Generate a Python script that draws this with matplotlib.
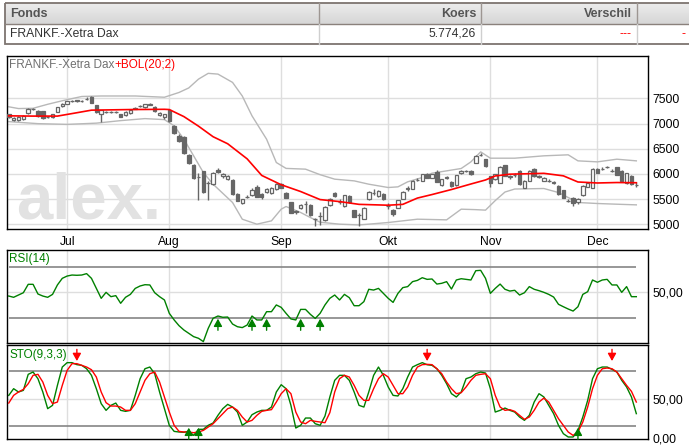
import numpy as np
import pandas as pd
import matplotlib
matplotlib.use('Agg')
import matplotlib.pyplot as plt
from matplotlib.colors import LinearSegmentedColormap

plt.rcParams['font.family'] = ['Liberation Sans', 'DejaVu Sans']

# trading days shown (15 Jun 2011 .. 13 Dec 2011)
dates = pd.bdate_range('2011-06-15', '2011-12-13')
month_labels = ['Jul', 'Aug', 'Sep', 'Okt', 'Nov', 'Dec']
month_nums = [7, 8, 9, 10, 11, 12]

opens = [7182, 7069, 7069, 7089, 7202, 7285, 7248, 7248, 7130, 7135,
         7235, 7348, 7400, 7455, 7462, 7450, 7490, 7533, 7367, 7188,
         7232, 7235, 7230, 7188, 7168, 7215, 7300, 7350, 7321, 7380,
         7334, 7168, 7135, 7268, 6950, 6750, 6740, 6373, 6178, 5930,
         6050, 5810, 5790, 6085, 5950, 5900, 5880, 5606, 5420, 5545,
         5577, 5750, 5604, 5644, 5630, 5697, 5796, 5630, 5432, 5260,
         5332, 5405, 5390, 5095, 5160, 5085, 5378, 5630, 5440, 5365,
         5564, 5279, 5175, 5113, 5498, 5625, 5560, 5610, 5362, 5286,
         5332, 5511, 5708, 5710, 5880, 5862, 5995, 5929, 6042, 5776,
         5927, 5842, 5776, 6015, 6058, 6061, 6227, 6378, 6293, 5949,
         5896, 5829, 6174, 5948, 5973, 6061, 5730, 5862, 6094, 5948,
         5862, 5860, 5828, 5763, 5677, 5463, 5531, 5432, 5577, 5750,
         5730, 6094, 6106, 6139, 6060, 6128, 6061, 5816, 5962, 5778]
highs = [7200, 7130, 7150, 7175, 7320, 7310, 7265, 7260, 7160, 7195,
         7330, 7415, 7460, 7480, 7478, 7475, 7520, 7540, 7380, 7280,
         7260, 7258, 7255, 7200, 7245, 7300, 7330, 7375, 7395, 7410,
         7350, 7230, 7200, 7290, 6970, 6790, 6750, 6390, 6190, 6010,
         6060, 5850, 6040, 6110, 6010, 5975, 5895, 5620, 5500, 5580,
         5720, 5770, 5615, 5730, 5750, 5810, 5815, 5645, 5445, 5290,
         5395, 5465, 5405, 5130, 5240, 5360, 5525, 5650, 5510, 5590,
         5580, 5290, 5230, 5345, 5655, 5700, 5680, 5625, 5430, 5295,
         5490, 5655, 5760, 5875, 5910, 6005, 6010, 6005, 6075, 5905,
         5960, 5860, 5985, 6070, 6085, 6075, 6370, 6410, 6305, 5960,
         6005, 6150, 6185, 5975, 6010, 6075, 5875, 6070, 6110, 5980,
         5935, 5890, 5850, 5775, 5690, 5510, 5545, 5520, 5770, 5840,
         6110, 6115, 6140, 6160, 6090, 6145, 6075, 6020, 5975, 5830]
lows = [7110, 7050, 7055, 7075, 7190, 7265, 7140, 7100, 7110, 7120,
        7225, 7340, 7390, 7440, 7440, 7435, 7475, 7405, 7220, 7036,
        7210, 7212, 7205, 7125, 7150, 7200, 7285, 7335, 7310, 7365,
        7235, 7150, 7100, 7040, 6790, 6630, 6395, 6200, 5890, 5490,
        5620, 5485, 5770, 6015, 5920, 5880, 5580, 5465, 5400, 5515,
        5560, 5540, 5505, 5630, 5610, 5680, 5720, 5520, 5220, 5200,
        5300, 5230, 5170, 4965, 4980, 5070, 5360, 5550, 5410, 5350,
        5420, 5140, 4967, 5100, 5485, 5590, 5545, 5485, 5310, 5170,
        5320, 5500, 5660, 5695, 5860, 5850, 5915, 5915, 5830, 5760,
        5905, 5750, 5765, 6005, 6040, 5985, 6210, 6350, 6140, 5745,
        5880, 5815, 5950, 5900, 5945, 5785, 5715, 5850, 5940, 5920,
        5850, 5830, 5790, 5590, 5520, 5440, 5370, 5400, 5565, 5735,
        5720, 6015, 6080, 6110, 6030, 5970, 5850, 5800, 5785, 5740]
closes = [7135, 7115, 7135, 7155, 7301, 7290, 7155, 7122, 7135, 7182,
          7321, 7400, 7447, 7460, 7458, 7455, 7495, 7414, 7235, 7268,
          7236, 7238, 7235, 7135, 7235, 7281, 7302, 7354, 7381, 7383,
          7248, 7215, 7188, 7056, 6806, 6645, 6410, 6225, 5920, 5940,
          5637, 5815, 6025, 6030, 5995, 5962, 5595, 5470, 5498, 5551,
          5683, 5551, 5538, 5710, 5730, 5796, 5730, 5531, 5233, 5245,
          5385, 5410, 5180, 5100, 5165, 5350, 5511, 5565, 5445, 5577,
          5432, 5153, 5180, 5332, 5644, 5630, 5664, 5498, 5365, 5200,
          5478, 5644, 5712, 5862, 5884, 5995, 5929, 5995, 5842, 5896,
          5931, 5763, 5975, 6061, 6062, 5995, 6360, 6382, 6148, 5829,
          5995, 6141, 5962, 5951, 5976, 5796, 5862, 6061, 5949, 5951,
          5929, 5863, 5830, 5597, 5531, 5466, 5418, 5511, 5763, 5829,
          6094, 6028, 6108, 6141, 6062, 5982, 5862, 6015, 5796, 5774]

# Bollinger(20;2) at selected days
bol_mid_idx = [0, 5, 10, 13, 17, 25, 32, 33, 36, 39, 42, 45, 49, 52, 56, 60, 64, 68,
               72, 78, 81, 84, 87, 91, 95, 98, 100, 103, 110, 114, 117, 121, 125, 129]
bol_mid = [7155, 7150, 7150, 7200, 7268, 7280, 7285, 7280, 7140, 6950, 6740, 6600,
           6300, 5970, 5785, 5650, 5490, 5450, 5395, 5378, 5395, 5520, 5590, 5690,
           5800, 5880, 5960, 5995, 6012, 5962, 5840, 5820, 5829, 5825]
bol_up_idx = [0, 2, 5, 8, 11, 15, 19, 26, 32, 35, 37, 39, 41, 43, 46, 48, 50, 53, 55,
              57, 61, 64, 67, 71, 74, 78, 80, 82, 85, 87, 90, 93, 95, 97, 99, 104,
              110, 115, 117, 121, 125, 129]
bol_up = [7335, 7300, 7305, 7385, 7455, 7540, 7550, 7550, 7525, 7620, 7710, 7885,
          8000, 7985, 7820, 7550, 7155, 6690, 6227, 6110, 6095, 5985, 5896, 5862,
          5796, 5730, 5743, 5843, 5929, 6015, 6061, 6108, 6240, 6439, 6313, 6313,
          6360, 6380, 6260, 6240, 6293, 6260]
bol_lo_idx = [0, 6, 12, 18, 23, 28, 32, 34, 36, 38, 40, 42, 46, 48, 51, 54, 56, 57,
              60, 62, 64, 68, 72, 78, 84, 90, 93, 96, 98, 100, 102, 104, 110, 113,
              117, 121, 125, 129]
bol_lo = [7040, 7000, 6985, 7010, 7060, 7100, 7080, 6956, 6691, 6360, 6028, 5796,
          5432, 5100, 5001, 5067, 5299, 5352, 5233, 5133, 5040, 5001, 4985, 5034,
          5100, 5087, 5299, 5290, 5280, 5470, 5640, 5700, 5710, 5630, 5432, 5412,
          5398, 5385]

rsi = [47.1, 46.1, 47.9, 49.7, 56.3, 56.3, 48.7, 47.1, 46.1, 48.4,
       55.8, 61.0, 62.8, 63.6, 63.4, 63.6, 64.7, 61.0, 53.1, 45.3,
       50.0, 46.6, 47.4, 41.4, 46.1, 48.4, 53.1, 55.0, 56.0, 55.8,
       49.7, 46.6, 44.0, 33.5, 28.3, 23.8, 20.4, 17.8, 15.2, 13.9,
       11.3, 21.7, 29.6, 31.4, 30.4, 30.6, 25.1, 23.0, 22.3, 24.3,
       31.4, 28.3, 28.3, 34.8, 34.8, 40.1, 38.2, 33.5, 29.1, 28.3,
       36.6, 36.6, 32.7, 29.5, 33.5, 40.1, 45.3, 47.9, 44.0, 48.4,
       45.8, 39.5, 39.5, 42.7, 52.4, 51.8, 53.1, 49.2, 45.3, 42.1,
       49.2, 53.7, 54.5, 58.4, 59.4, 61.5, 60.2, 60.5, 56.5, 57.1,
       58.4, 52.6, 59.7, 60.7, 60.2, 59.7, 67.0, 67.3, 61.0, 49.2,
       53.1, 56.5, 52.4, 51.0, 51.6, 47.9, 49.7, 54.5, 52.4, 51.3,
       50.0, 48.4, 46.3, 40.6, 38.7, 36.9, 35.3, 38.7, 48.4, 50.5,
       59.7, 57.9, 59.7, 60.2, 55.8, 55.8, 50.0, 54.5, 46.6, 46.6]
rsi_buy = [43, 50, 53, 60, 64]

sto_k = [55.1, 63.8, 59.5, 61.6, 82.5, 85.5, 76.8, 59.5, 37.8, 42.1,
         68.1, 92.0, 97.7, 97.7, 95.1, 94.2, 89.8, 81.2, 63.8, 44.3,
         35.6, 42.1, 45.1, 35.6, 34.3, 35.6, 55.1, 76.8, 89.8, 92.0,
         83.3, 59.5, 37.8, 16.1, 8.2, 7.4, 7.0, 8.5, 3.0, 10.9,
         10.9, 16.1, 19.1, 29.1, 37.8, 43.4, 39.9, 33.4, 16.1, 20.4,
         29.9, 33.4, 35.6, 35.6, 39.9, 59.5, 69.0, 63.8, 42.1, 12.6,
         16.1, 25.6, 25.6, 18.2, 16.1, 28.2, 53.0, 74.7, 81.2, 81.2,
         74.7, 59.5, 42.1, 39.9, 59.5, 81.2, 92.0, 81.2, 66.0, 55.1,
         54.3, 63.8, 79.0, 92.0, 95.1, 97.7, 95.0, 94.2, 89.8, 81.2,
         70.3, 57.3, 53.0, 59.5, 76.8, 79.0, 83.3, 85.5, 84.2, 63.8,
         33.4, 35.6, 38.6, 35.6, 33.4, 26.9, 22.6, 29.1, 46.4, 57.3,
         53.0, 42.1, 31.3, 16.1, 5.2, 0.9, 0.9, 9.0, 26.9, 48.6,
         76.8, 89.8, 92.0, 92.0, 89.0, 85.5, 74.7, 66.0, 53.0, 31.3]
sto_d = [45.1, 55.1, 59.5, 62.9, 70.3, 81.2, 82.5, 72.5, 55.1, 44.3,
         46.4, 68.1, 87.7, 96.4, 96.4, 94.2, 92.0, 88.5, 79.0, 59.5,
         45.6, 41.2, 41.2, 39.9, 35.6, 35.6, 44.3, 59.5, 74.7, 83.3,
         85.5, 72.5, 53.0, 33.4, 16.1, 8.2, 7.4, 7.4, 6.5, 7.4,
         9.5, 13.9, 18.2, 24.7, 31.3, 37.8, 39.9, 35.6, 26.9, 20.4,
         22.6, 29.1, 34.3, 35.6, 36.5, 46.4, 57.3, 63.8, 57.3, 33.4,
         20.4, 18.2, 22.6, 21.3, 20.4, 19.5, 32.6, 59.5, 76.8, 81.2,
         79.0, 68.1, 55.1, 48.6, 48.6, 63.8, 76.8, 83.3, 79.0, 68.1,
         57.3, 57.3, 66.0, 81.2, 92.0, 95.1, 95.5, 95.1, 89.8, 83.3,
         72.5, 63.8, 57.3, 58.6, 66.0, 74.7, 81.2, 82.5, 83.3, 76.8,
         55.1, 39.9, 35.6, 36.5, 34.3, 29.1, 23.9, 26.9, 35.6, 46.4,
         51.6, 46.4, 35.6, 24.7, 16.1, 7.4, 3.0, 7.4, 20.4, 39.9,
         63.8, 81.2, 89.8, 90.7, 89.8, 85.5, 76.8, 68.1, 60.3, 46.4]
sto_sell = [14, 86, 124]
sto_buy = [37, 39, 117]

# colours
GRID = '#dedede'
LEVEL = '#858585'
CANDLE = '#666666'
BAND = '#b8b8b8'
GREEN = '#008000'
RED = '#ff0000'

W, H = 689, 447
fig = plt.figure(figsize=(W / 100, H / 100), dpi=100)


def box(x0, y0, x1, y1):
    return [x0 / W, 1 - y1 / H, (x1 - x0) / W, (y1 - y0) / H]


# ---- quote table on top ----
ax0 = fig.add_axes([0, 0, 1, 1])
ax0.axis('off')
grad = LinearSegmentedColormap.from_list('hdr', ['#ececec', '#d6d6d6'])
ax0.imshow(np.linspace(0, 1, 30).reshape(-1, 1), cmap=grad, aspect='auto',
           extent=[5, 700, 24, 3.3], zorder=0)
ax0.set_xlim(0, W)
ax0.set_ylim(H, 0)
ax0.add_patch(plt.Rectangle((5, 3.3), 700, 40.7, fill=False, ec='#7d7470', lw=1.3))
ax0.plot([5, 700], [24, 24], color='#8a817c', lw=1)
for cx in [319, 481, 637]:
    ax0.plot([cx, cx], [3.3, 24], color='#9d9692', lw=1)
    ax0.plot([cx, cx], [24, 44], color='#cfcfcf', lw=1)
hdr = dict(fontsize=9, fontweight='bold', color='#555555', va='center')
ax0.text(10, 13.8, 'Fonds', ha='left', **hdr)
ax0.text(476, 13.8, 'Koers', ha='right', **hdr)
ax0.text(632, 13.8, 'Verschil', ha='right', **hdr)
ax0.text(10, 34, 'FRANKF.-Xetra Dax', ha='left', va='center', fontsize=8.7, color='#333333')
ax0.text(476, 34, '5.774,26', ha='right', va='center', fontsize=8.7, color='#333333')
ax0.text(632, 34, '---', ha='right', va='center', fontsize=8.7, color=RED)
ax0.text(682, 34, '-', ha='left', va='center', fontsize=8.7, color=RED)

x = np.arange(len(dates))
month_start = [int(np.where(dates.month == m)[0][0]) for m in month_nums]

ax_main = fig.add_axes(box(7.3, 56, 648, 229))
ax_rsi = fig.add_axes(box(7.3, 249.7, 648, 343))
ax_sto = fig.add_axes(box(7.3, 345.3, 648, 439.3))

for ax in [ax_main, ax_rsi, ax_sto]:
    ax.set_xlim(-0.3, 131.4)
    for sp in ax.spines.values():
        sp.set_color('black')
        sp.set_linewidth(1)
    ax.yaxis.tick_right()
    ax.tick_params(length=0, labelsize=8.7, pad=3)
    for m in month_start:
        ax.axvline(m, color=GRID, lw=1, zorder=0)

# ---- main price chart ----
ax_main.set_ylim(4905, 8345)
price_ticks = [5000, 5500, 6000, 6500, 7000, 7500]
ax_main.set_yticks(price_ticks)
ax_main.set_yticklabels([str(v) for v in price_ticks])
for v in price_ticks:
    ax_main.axhline(v, color=GRID, lw=1, zorder=0)
ax_main.set_xticks(month_start)
ax_main.set_xticklabels(month_labels)
ax_main.tick_params(axis='x', pad=5)

ax_main.text(0.014, 0.062, 'alex.', transform=ax_main.transAxes, fontsize=47,
             fontweight='bold', color='#e2e2e2', ha='left', va='baseline', zorder=0.5)

ax_main.plot(bol_up_idx, bol_up, color=BAND, lw=1, zorder=1)
ax_main.plot(bol_lo_idx, bol_lo, color=BAND, lw=1, zorder=1)

o = np.array(opens)
c = np.array(closes)
ax_main.vlines(x, lows, highs, color=CANDLE, lw=1, zorder=2)
up = c >= o
ax_main.bar(x[up], (c - o)[up], bottom=o[up], width=0.72, color='white',
            edgecolor=CANDLE, lw=0.9, zorder=3)
ax_main.bar(x[~up], (c - o)[~up], bottom=o[~up], width=0.72, color=CANDLE,
            edgecolor=CANDLE, lw=0.9, zorder=3)

ax_main.plot(bol_mid_idx, bol_mid, color=RED, lw=1.2, zorder=4)

t1 = ax_main.text(0.003, 0.929, 'FRANKF.-Xetra Dax', transform=ax_main.transAxes,
                  fontsize=8.5, color='#707070', va='baseline', ha='left')
ax_main.annotate('+BOL(20;2)', xy=(1, 0), xycoords=t1, fontsize=8.5, color=RED,
                 va='bottom', ha='left')

# ---- RSI ----
ax_rsi.set_ylim(10.2, 83.5)
ax_rsi.set_yticks([50])
ax_rsi.set_yticklabels(['50,00'])
ax_rsi.set_xticks([])
ax_rsi.axhline(50, color=GRID, lw=1, zorder=0)
ax_rsi.hlines([70, 30], 0, len(x) - 1, color=LEVEL, lw=1.2, zorder=1)
ax_rsi.plot(x, rsi, color=GREEN, lw=1, zorder=2)
for i in rsi_buy:
    ax_rsi.annotate('', xy=(i, 29.3), xytext=(i, 20.2),
                    arrowprops=dict(arrowstyle='-|>,head_length=0.45,head_width=0.25',
                                    color=GREEN, lw=1, shrinkA=0, shrinkB=0))
ax_rsi.text(0.003, 0.865, 'RSI(14)', transform=ax_rsi.transAxes, fontsize=8.5,
            color=GREEN, va='baseline', ha='left')

# ---- Stochastic ----
ax_sto.set_ylim(-2.1, 120.3)
ax_sto.set_yticks([0, 50])
ax_sto.set_yticklabels(['0,00', '50,00'])
ax_sto.set_xticks([])
ax_sto.axhline(50, color=GRID, lw=1, zorder=0)
ax_sto.hlines([86.4, 14.8], 0, len(x) - 1, color=LEVEL, lw=1.2, zorder=1)
ax_sto.plot(x, sto_k, color=GREEN, lw=1, zorder=2)
ax_sto.plot(x, sto_d, color=RED, lw=1, zorder=3)
for i in sto_sell:
    ax_sto.annotate('', xy=(i, 99.8), xytext=(i, 115),
                    arrowprops=dict(arrowstyle='-|>,head_length=0.45,head_width=0.25',
                                    color=RED, lw=1, shrinkA=0, shrinkB=0))
for i in sto_buy:
    ax_sto.annotate('', xy=(i, 13), xytext=(i, -2.1),
                    arrowprops=dict(arrowstyle='-|>,head_length=0.45,head_width=0.25',
                                    color=GREEN, lw=1, shrinkA=0, shrinkB=0))
ax_sto.text(0.003, 0.865, 'STO(9,3,3)', transform=ax_sto.transAxes, fontsize=8.5,
            color=GREEN, va='baseline', ha='left')

fig.savefig('out.png', dpi=100)
